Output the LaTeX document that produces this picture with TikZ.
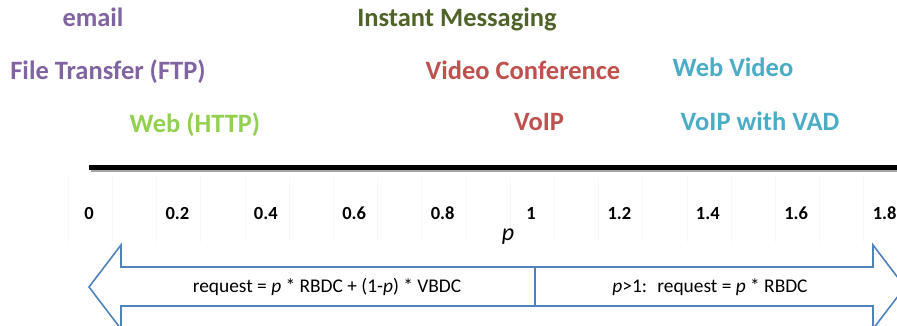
\documentclass[tikz,border=0pt]{standalone}
\usepackage{fontspec}
\setmainfont{Carlito}
\definecolor{cpurple}{HTML}{8064A2}
\definecolor{clime}{HTML}{92D050}
\definecolor{colive}{HTML}{4F6228}
\definecolor{cred}{HTML}{C0504D}
\definecolor{caqua}{HTML}{4BACC6}
\definecolor{cblue}{HTML}{4F81BD}
\tikzset{
  app/.style={font=\fontsize{26.5}{30}\selectfont\bfseries, inner sep=0pt, anchor=base},
  tick/.style={font=\fontsize{18.5}{21}\selectfont\bfseries, inner sep=0pt, anchor=base},
  rule/.style={font=\fontsize{19.4}{23}\selectfont, inner sep=0pt},
  grid/.style={black!3, line width=0.6pt},
  band/.style={draw=cblue, line width=1.6pt, fill=white, line join=miter}
}
\begin{document}
\begin{tikzpicture}[x=1pt,y=-1pt]
\useasboundingbox (0,0) rectangle (897,326);
\clip (0,0) rectangle (897,326);

% application labels
\node[app, text=cpurple] (email) at (93,27) {email};
\node[app, text=colive] (im) at (457,27) {Instant Messaging};
\node[app, text=cpurple] (ftp) at (108,80) {File Transfer (FTP)};
\node[app, text=cred] (vc) at (523,80) {Video Conference};
\node[app, text=caqua] (wv) at (733,77) {Web Video};
\node[app, text=clime] (web) at (195,133) {Web (HTTP)};
\node[app, text=cred] (voip) at (539,131) {VoIP};
\node[app, text=caqua] (vad) at (760,131) {VoIP with VAD};

% faint grid behind the scale
\foreach \i in {0,...,18}
  \draw[grid] ({68+44.2*\i},177) -- ({68+44.2*\i},242);

% axis bar with its shadow
\coordinate (axl) at (89,167.5);
\coordinate (axr) at (900,167.5);
\draw[black!35, line width=5pt] ([shift={(1.5,2.2)}]axl) -- ([shift={(1.5,2.2)}]axr);
\draw[black, line width=5pt] (axl) -- (axr);

% scale values
\foreach \v [count=\k from 0] in {0,0.2,0.4,0.6,0.8,1,1.2,1.4,1.6,1.8}
  \node[tick] (t\k) at ({89+88.4*\k},219) {\v};
\node[font=\fontsize{24}{28}\selectfont\itshape, inner sep=0pt] (pl) at (508,237) {p};

% two-headed band with the two request rules
\draw[band] (89,287) -- (121,245) -- (121,267) -- (873,267) -- (873,245)
  -- (905,287) -- (873,329) -- (873,306) -- (121,306) -- (121,329) -- cycle;
\coordinate (dtop) at (535,267);
\coordinate (dbot) at (535,306);
\draw[cblue, line width=1.6pt] (dtop) -- (dbot);
\node[rule] (r1) at (327,287) {request = \textit{p} * RBDC + (1-\textit{p}) * VBDC};
\node[rule] (r2) at (710,287) {\textit{p}>1:~ request = \textit{p} * RBDC};
\end{tikzpicture}
\end{document}
